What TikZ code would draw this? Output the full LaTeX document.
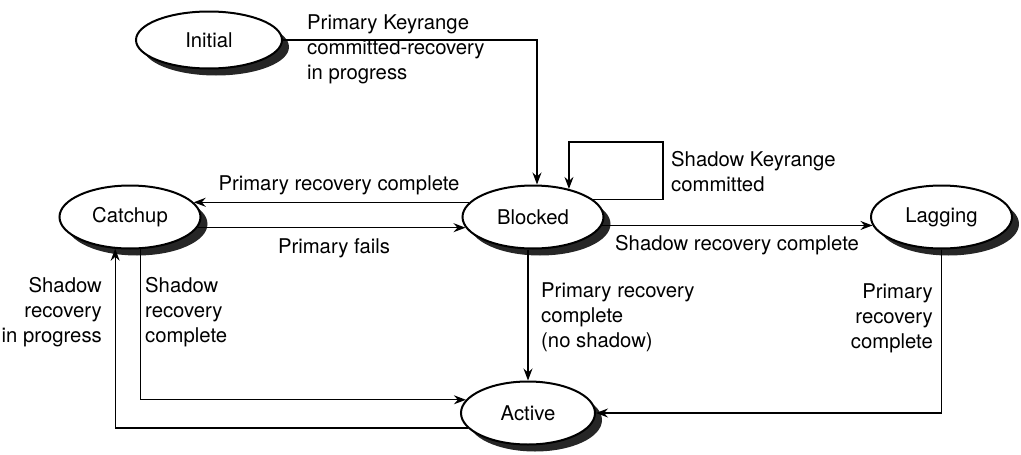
\documentclass[tikz,border=0pt]{standalone}
\usepackage{fontspec}
\setmainfont{TeX Gyre Heros}
\usetikzlibrary{shapes.geometric,shadows,arrows.meta,calc}
\begin{document}
\begin{tikzpicture}[x=1pt,y=-1pt,
  lbl/.style={font=\fontsize{20.3}{25}\selectfont, inner sep=0pt},
  state/.style={ellipse, draw, line width=2pt, fill=white, inner sep=0pt,
    minimum width=141pt, minimum height=63pt, font=\fontsize{20.3}{25}\selectfont,
    drop shadow={shadow xshift=7pt, shadow yshift=-7pt, fill=black!85, opacity=1}},
  arr/.style={line width=1.2pt, -{Stealth[length=12pt,width=9pt,inset=4pt]}},
  ln/.style={line width=1.2pt}]
\useasboundingbox (0,0) rectangle (1021,455);
% states
\node[state, minimum width=146pt, minimum height=57pt] (Initial) at (209,40) {Initial};
\node[state] (Blocked) at (533,217) {Blocked};
\node[state] (Catchup) at (130,217) {Catchup};
\node[state] (Lagging) at (941.5,217) {Lagging};
\node[state, minimum width=134pt] (Active) at (528,413) {Active};
% connectors
\draw[arr] (Initial.east) -| ($(Blocked.north)+(4,0)$);
\coordinate (loopC) at (663,142);
\draw[arr] (Blocked.16) -| (loopC) -| (Blocked.38);
\draw[arr] (Blocked.167) -- (Catchup.13);
\draw[arr] (Catchup.-9) -- (Blocked.189);
\draw[arr] (Blocked.-7) -- (Lagging.187);
\draw[arr] (Blocked.south -| Active.north) -- (Active.north);
\draw[arr] (Lagging.south) |- (Active.east);
\draw[arr] (Catchup.-72) |- (Active.168);
\draw[arr] (Active.194) -| (Catchup.-115.6);
% labels
\node[lbl, anchor=north west, align=left] (lInit) at (307,15) {Primary Keyrange\\committed-recovery\\in progress};
\node[lbl, anchor=north west, align=left] (lLoop) at (671,151) {Shadow Keyrange\\committed};
\node[lbl, anchor=north] (lBC) at (339,175) {Primary recovery complete};
\node[lbl, anchor=north] (lCB) at (334,238) {Primary fails};
\node[lbl, anchor=north west] (lBL) at (615,235) {Shadow recovery complete};
\node[lbl, anchor=north west, align=left] (lBA) at (541,282) {Primary recovery\\complete\\(no shadow)};
\node[lbl, anchor=north east, align=right] (lLA) at (933,283) {Primary\\recovery\\complete};
\node[lbl, anchor=north east, align=right] (lAC) at (102,277) {Shadow\\recovery\\in progress};
\node[lbl, anchor=north west, align=left] (lCA) at (145,277) {Shadow\\recovery\\complete};
\end{tikzpicture}
\end{document}
